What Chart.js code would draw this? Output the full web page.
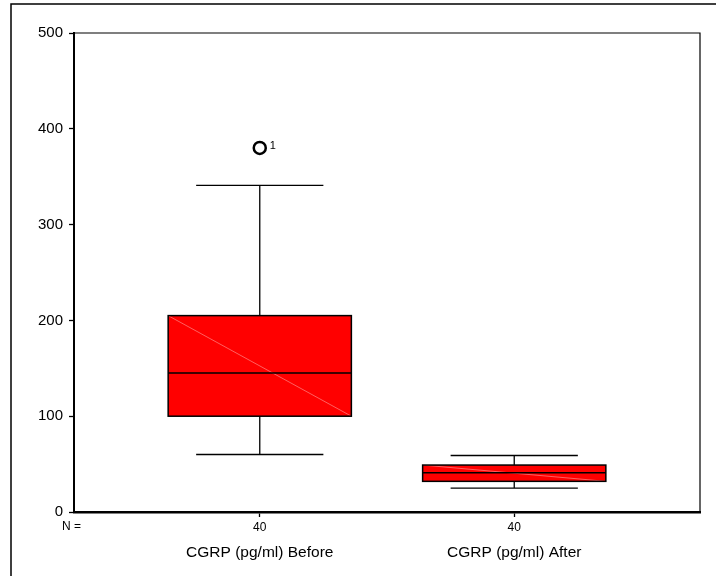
<!DOCTYPE html>
<html>
<head>
<meta charset="utf-8">
<script src="https://cdn.jsdelivr.net/npm/chart.js@4/dist/chart.umd.min.js"></script>
<style>
  html, body { margin: 0; padding: 0; background: #fff; }
  #wrap { width: 716px; height: 576px; position: relative; }
</style>
</head>
<body>
<div id="wrap"><canvas id="chart" width="716" height="576"></canvas></div>
<script>
// box plot values
const categories = ['CGRP (pg/ml) Before', 'CGRP (pg/ml) After'];
const counts = [40, 40];
const whiskerLow = [60, 25];
const quartile1 = [100, 32];
const medians = [145, 41];
const quartile3 = [205, 49];
const whiskerHigh = [341, 59];
const outliers = [{ x: 0, y: 380, label: '1' }];
const yTicks = [0, 100, 200, 300, 400, 500];

const FONT = '"Liberation Sans", Arial, sans-serif';
const BOX_HALF = 0.36;
const CAP_HALF = 0.25;

const boxPlugin = {
    id: 'boxes',
    beforeDraw(chart) {
        const ctx = chart.ctx;
        ctx.save();
        // outer frame (left/top only, the picture is cropped)
        ctx.strokeStyle = '#000';
        ctx.lineWidth = 1.5;
        ctx.beginPath();
        ctx.moveTo(11, 576);
        ctx.lineTo(11, 4);
        ctx.lineTo(716, 4);
        ctx.stroke();
        ctx.restore();
    },
    afterDatasetsDraw(chart) {
        const { ctx, chartArea: a } = chart;
        const x = chart.scales.x;
        const y = chart.scales.y;
        ctx.save();

        // top and right of the plot frame
        ctx.strokeStyle = '#000';
        ctx.lineWidth = 1.2;
        ctx.beginPath();
        ctx.moveTo(a.left, a.top);
        ctx.lineTo(a.right, a.top);
        ctx.lineTo(a.right, a.bottom);
        ctx.stroke();

        categories.forEach((_, i) => {
            const xl = x.getPixelForValue(i - BOX_HALF);
            const xr = x.getPixelForValue(i + BOX_HALF);
            const xc = x.getPixelForValue(i);
            const cl = x.getPixelForValue(i - CAP_HALF);
            const cr = x.getPixelForValue(i + CAP_HALF);
            const yq1 = y.getPixelForValue(quartile1[i]);
            const yq3 = y.getPixelForValue(quartile3[i]);
            const ymed = y.getPixelForValue(medians[i]);
            const ylo = y.getPixelForValue(whiskerLow[i]);
            const yhi = y.getPixelForValue(whiskerHigh[i]);

            ctx.strokeStyle = '#000';
            ctx.lineWidth = 1.3;
            ctx.beginPath();
            ctx.moveTo(xc, yq3); ctx.lineTo(xc, yhi);
            ctx.moveTo(cl, yhi); ctx.lineTo(cr, yhi);
            ctx.moveTo(xc, yq1); ctx.lineTo(xc, ylo);
            ctx.moveTo(cl, ylo); ctx.lineTo(cr, ylo);
            ctx.stroke();

            ctx.fillStyle = '#ff0000';
            ctx.fillRect(xl, yq3, xr - xl, yq1 - yq3);

            // faint diagonal seen inside the fill
            ctx.strokeStyle = 'rgba(255,150,150,0.8)';
            ctx.lineWidth = 0.8;
            ctx.beginPath();
            ctx.moveTo(xl, yq3); ctx.lineTo(xr, yq1);
            ctx.stroke();

            ctx.strokeStyle = '#000';
            ctx.lineWidth = 1.5;
            ctx.strokeRect(xl, yq3, xr - xl, yq1 - yq3);
            ctx.beginPath();
            ctx.moveTo(xl, ymed); ctx.lineTo(xr, ymed);
            ctx.stroke();
        });

        // outlier case numbers
        const meta = chart.getDatasetMeta(0);
        ctx.fillStyle = '#000';
        ctx.font = '11px ' + FONT;
        ctx.textAlign = 'left';
        ctx.textBaseline = 'middle';
        meta.data.forEach((pt, i) => {
            ctx.fillText(outliers[i].label, pt.x + 10, pt.y - 2);
        });

        // "N =" row label
        ctx.font = '12px ' + FONT;
        ctx.textAlign = 'left';
        ctx.fillText('N =', 62, 527);
        ctx.restore();
    },
};

new Chart(document.getElementById('chart'), {
    type: 'scatter',
    data: {
        datasets: [{
            data: outliers.map((o) => ({ x: o.x, y: o.y })),
            pointStyle: 'circle',
            pointRadius: 6,
            pointBorderWidth: 2.5,
            pointBorderColor: '#000',
            pointBackgroundColor: 'rgba(255,255,255,0)',
        }],
    },
    options: {
        responsive: false,
        animation: false,
        devicePixelRatio: 1,
        layout: { padding: { top: 33, right: 16, left: 0, bottom: 0 } },
        plugins: { legend: { display: false }, tooltip: { enabled: false } },
        scales: {
            x: {
                type: 'linear',
                min: -0.73,
                max: 1.73,
                afterBuildTicks: (s) => { s.ticks = categories.map((_, i) => ({ value: i })); },
                afterFit: (s) => { s.height = 25; },
                ticks: {
                    color: '#000',
                    font: { family: FONT, size: 12 },
                    padding: 3,
                    callback: (v) => String(counts[v] ?? ''),
                },
                grid: { drawOnChartArea: false, tickLength: 5, color: '#000', tickWidth: 1.3 },
                border: { display: true, color: '#000', width: 2.5 },
            },
            x2: {
                type: 'linear',
                position: 'bottom',
                min: -0.73,
                max: 1.73,
                afterBuildTicks: (s) => { s.ticks = categories.map((_, i) => ({ value: i })); },
                afterFit: (s) => { s.height = 39; },
                ticks: {
                    color: '#000',
                    font: { family: FONT, size: 15.5 },
                    padding: 6,
                    callback: (v) => categories[v] ?? '',
                },
                grid: { display: false, drawTicks: false },
                border: { display: false },
            },
            y: {
                min: 0,
                max: 500,
                afterBuildTicks: (s) => { s.ticks = yTicks.map((v) => ({ value: v })); },
                afterFit: (s) => { s.width = 74; },
                ticks: {
                    color: '#000',
                    font: { family: FONT, size: 15 },
                    padding: 6,
                },
                grid: { drawOnChartArea: false, tickLength: 5, color: '#000', tickWidth: 1.3 },
                border: { display: true, color: '#000', width: 2 },
            },
        },
    },
    plugins: [boxPlugin],
});
</script>
</body>
</html>
